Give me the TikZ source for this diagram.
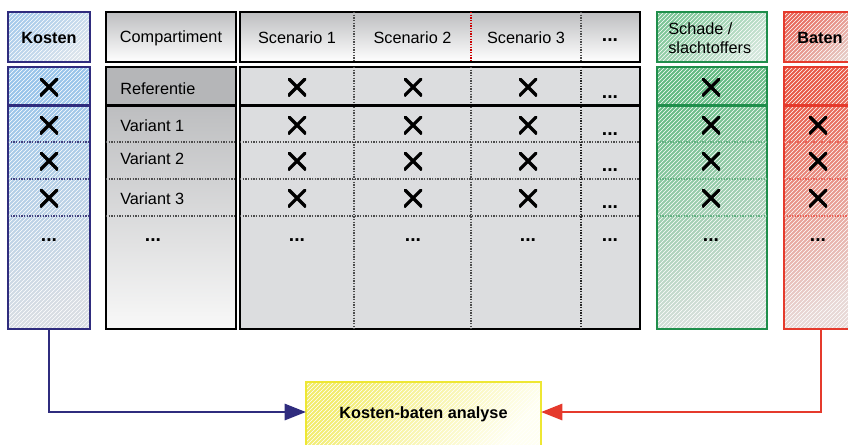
\documentclass[tikz,border=0pt]{standalone}
\usepackage{fontspec}
\setmainfont{Liberation Sans}
\usetikzlibrary{arrows.meta,fit,patterns}
\definecolor{navy}{HTML}{2F2C7E}
\definecolor{kh1}{HTML}{A6CAEB}
\definecolor{kh2}{HTML}{DCE4EC}
\definecolor{kb1}{HTML}{98C4EA}
\definecolor{kb2}{HTML}{D8DDE3}
\definecolor{gbord}{HTML}{1F8E4B}
\definecolor{gh1}{HTML}{7CC596}
\definecolor{gh2}{HTML}{D2E6DA}
\definecolor{gb1}{HTML}{62BA82}
\definecolor{gb2}{HTML}{D8E0DC}
\definecolor{rbord}{HTML}{E53A2C}
\definecolor{rh1}{HTML}{E8675A}
\definecolor{rh2}{HTML}{E6CCC6}
\definecolor{rb1}{HTML}{E85A47}
\definecolor{rb2}{HTML}{E8D8D6}
\definecolor{ybord}{HTML}{EEE733}
\definecolor{yb1}{HTML}{F2EC6C}
\definecolor{yb2}{HTML}{FFFFF2}
\definecolor{gry1}{HTML}{BDBEC0}
\definecolor{gryref}{HTML}{B5B6B8}
\definecolor{grybody}{HTML}{DCDDDF}
\definecolor{grylow}{HTML}{F8F8F8}
\begin{document}
\begin{tikzpicture}[x=0.75pt,y=-0.75pt,
  every node/.style={font=\fontsize{12.2}{14.3}\selectfont},
  bx/.style={inner sep=0pt, outer sep=0pt, line width=2.2pt},
  cbx/.style={inner sep=0pt, outer sep=0pt, line width=2.2pt,
    postaction={pattern=north east lines, pattern color=white, fill opacity=0.14},
    postaction={draw=#1, line width=2.2pt}},
  xm/.style={inner sep=0pt, minimum size=13.5pt,
    path picture={\draw[line width=2.4pt]
      (path picture bounding box.south west) -- (path picture bounding box.north east)
      (path picture bounding box.north west) -- (path picture bounding box.south east);}},
  dts/.style={inner sep=0pt, font=\fontsize{14.5}{16}\selectfont\bfseries},
  txt/.style={inner sep=0pt},
  btxt/.style={inner sep=0pt, font=\fontsize{12.2}{14.3}\selectfont\bfseries},
  dline/.style={line width=0.8pt, dash pattern=on 1pt off 1pt},
  conn/.style={line width=2.2pt, -{Triangle[length=16pt,width=12pt]}},
]
\useasboundingbox (0,0) rectangle (848,444);
\clip (0,0) rectangle (848,444);

% row / column helper coordinates
\coordinate (ra) at (0,105.5);
\coordinate (rb) at (0,142);
\coordinate (rc) at (0,179);
\coordinate (rd) at (0,216);
\coordinate (c1) at (354,0);
\coordinate (c2) at (471,0);
\coordinate (c3) at (581,0);

% Kosten column
\node[cbx=navy, fit={(8,12)(90,62)}, top color=kh1, bottom color=kh2, shading angle=40] (kh) {};
\node[cbx=navy, fit={(8,67)(90,329)}, top color=kb1, bottom color=kb2, shading angle=20] (kb) {};
\draw[dline, navy!75!gray] (kb.west |- rb) -- (kb.east |- rb);
\draw[dline, navy!75!gray] (kb.west |- rc) -- (kb.east |- rc);
\draw[dline, navy!75!gray] (kb.west |- rd) -- (kb.east |- rd);
\draw[navy, line width=2.2pt] (kb.west |- ra) -- (kb.east |- ra);

% Compartiment column
\node[bx, fit={(106,12)(236,62)}, draw=black, top color=gry1, bottom color=white] (ch) {};
\node[bx, fit={(106,67)(236,105.5)}, draw=black, fill=gryref] (cr) {};
\node[bx, fit={(106,105.5)(236,329)}, draw=black, top color=gry1, bottom color=grylow] (cb) {};
\draw[dline, black!70] (cb.west |- rb) -- (cb.east |- rb);
\draw[dline, black!70] (cb.west |- rc) -- (cb.east |- rc);
\draw[dline, black!70] (cb.west |- rd) -- (cb.east |- rd);

% Scenario table
\node[bx, fit={(240,12)(640,62)}, draw=black, top color=gry1, bottom color=white] (sh) {};
\node[bx, fit={(240,67)(640,329)}, draw=black, fill=grybody] (sb) {};
\draw[dline, black!70] (c1 |- sh.north) -- (c1 |- sh.south);
\draw[dline, red!80!black] (c2 |- sh.north) -- (c2 |- sh.south);
\draw[dline, black!70, line width=1.6pt] (c3 |- sh.north) -- (c3 |- sh.south);
\draw[dline, black!70] (sb.west |- rb) -- (sb.east |- rb);
\draw[dline, black!70] (sb.west |- rc) -- (sb.east |- rc);
\draw[dline, black!70] (sb.west |- rd) -- (sb.east |- rd);
\draw[dline, black!70] (c1 |- sb.north) -- (c1 |- sb.south);
\draw[dline, black!70] (c2 |- sb.north) -- (c2 |- sb.south);
\draw[dline, black!85, line width=1.6pt] (c3 |- sb.north) -- (c3 |- sb.south);
\draw[black, line width=2.2pt] (sb.west |- ra) -- (sb.east |- ra);

% Schade column
\node[cbx=gbord, fit={(657,12)(767,62)}, top color=gh1, bottom color=gh2, shading angle=40] (gh) {};
\node[cbx=gbord, fit={(657,67)(767,329)}, top color=gb1, bottom color=gb2, shading angle=25] (gb) {};
\draw[dline, gbord!70] (gb.west |- rb) -- (gb.east |- rb);
\draw[dline, gbord!70] (gb.west |- rc) -- (gb.east |- rc);
\draw[dline, gbord!70] (gb.west |- rd) -- (gb.east |- rd);
\draw[gbord, line width=2.2pt] (gb.west |- ra) -- (gb.east |- ra);

% Baten column
\node[cbx=rbord, fit={(784,12)(858,62)}, top color=rh1, bottom color=rh2, shading angle=40] (bh) {};
\node[cbx=rbord, fit={(784,67)(858,329)}, top color=rb1, bottom color=rb2, shading angle=25] (bb) {};
\draw[dline, rbord!80] (bb.west |- rb) -- (bb.east |- rb);
\draw[dline, rbord!80] (bb.west |- rc) -- (bb.east |- rc);
\draw[dline, rbord!80] (bb.west |- rd) -- (bb.east |- rd);
\draw[rbord, line width=2.2pt] (bb.west |- ra) -- (bb.east |- ra);

% Kosten-baten analyse box
\node[cbx=ybord, fit={(306,382)(541,450)}, top color=yb1, bottom color=yb2, shading angle=50] (kba) {};

% header texts
\node[btxt] (tk) at (49,38) {Kosten};
\node[txt] (tc) at (171,38) {Compartiment};
\node[txt] (ts1) at (297,38) {Scenario 1};
\node[txt] (ts2) at (412.5,38) {Scenario 2};
\node[txt] (ts3) at (526,38) {Scenario 3};
\node[dts] (tsd) at (610,40) {...};
\node[txt, anchor=west, align=left] (tg) at (668,38.5) {Schade /\\slachtoffers};
\node[btxt] (tb) at (820,38) {Baten};
\node[btxt] (tkba) at (423.5,414) {Kosten-baten analyse};

% row texts
\node[txt, anchor=west] (tr) at (120,89) {Referentie};
\node[txt, anchor=west] (tv1) at (120,125.5) {Variant 1};
\node[txt, anchor=west] (tv2) at (120,159) {Variant 2};
\node[txt, anchor=west] (tv3) at (120,199) {Variant 3};
\node[dts] (tcd) at (153,240.5) {...};

% crosses
\foreach \y [count=\i] in {87,125,161,198} {
  \node[xm] (kx\i) at (49,\y) {};
  \node[xm] (sax\i) at (297,\y) {};
  \node[xm] (sbx\i) at (413,\y) {};
  \node[xm] (scx\i) at (528,\y) {};
  \node[xm] (gx\i) at (711,\y) {};
}
\foreach \y [count=\i] in {125,161,198} {
  \node[xm] (bx\i) at (818,\y) {};
}
\foreach \y [count=\i] in {97.3,133.7,170.3,207.3} {
  \node[dts] (sdd\i) at (610,\y) {...};
}
\node[dts] (kd) at (49,240.5) {...};
\node[dts] (sad) at (297,240.5) {...};
\node[dts] (sbd) at (413,240.5) {...};
\node[dts] (scd) at (528,240.5) {...};
\node[dts] (sdd) at (610,240.5) {...};
\node[dts] (gd) at (711,240.5) {...};
\node[dts] (bd) at (818,240.5) {...};

% connectors
\coordinate (ay) at (0,412);
\coordinate (kin) at (kba.west |- ay);
\coordinate (bin) at (kba.east |- ay);
\draw[conn, navy] (kb.south) |- (kin);
\draw[conn, rbord] (bb.south) |- (bin);
\end{tikzpicture}
\end{document}
